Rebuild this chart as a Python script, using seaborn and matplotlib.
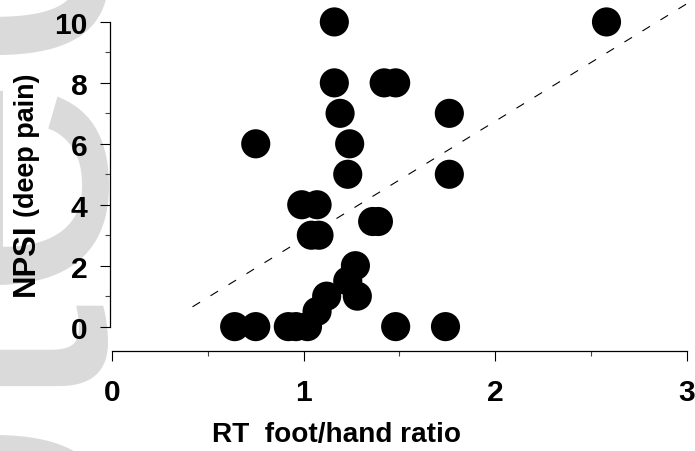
import pandas as pd
import matplotlib
matplotlib.use('Agg')
import matplotlib.pyplot as plt
from matplotlib.ticker import MultipleLocator
import seaborn as sns

# RT foot/hand ratio vs NPSI (deep pain)
rt_ratio = [1.16, 2.58,
            1.16, 1.42, 1.48,
            1.19, 1.76,
            0.75, 1.24,
            1.23, 1.76,
            0.99, 1.07,
            1.36, 1.39,
            1.04, 1.08,
            1.27, 1.23,
            1.12, 1.28,
            1.07,
            0.64, 0.75, 0.92, 0.96, 1.02, 1.48, 1.74]
npsi_deep = [10, 10,
             8, 8, 8,
             7, 7,
             6, 6,
             5, 5,
             4, 4,
             3.45, 3.45,
             3, 3,
             2, 1.5,
             1, 1,
             0.5,
             0, 0, 0, 0, 0, 0, 0]

# dashed trend line as drawn (endpoints)
trend_x = [0.42, 3.0]
trend_y = [0.65, 10.6]

df = pd.DataFrame({'ratio': rt_ratio, 'npsi': npsi_deep})

sns.set_style('ticks')
plt.rcParams['font.family'] = ['Liberation Sans', 'DejaVu Sans']
plt.rcParams['text.color'] = 'black'
plt.rcParams['xtick.color'] = 'black'
plt.rcParams['ytick.color'] = 'black'

fig = plt.figure(figsize=(6.95, 4.52), dpi=100)

# faint watermark behind everything
fig.text(105 / 695, 1 - 1566 / 452, 'Accepted', rotation=90, rotation_mode='anchor',
         ha='left', va='baseline', fontsize=298, color='#dadada', zorder=-10)

ax = fig.add_axes([110 / 695, 1 - 352 / 452, 577 / 695, 350.4 / 452])
ax.patch.set_alpha(0)

sns.scatterplot(data=df, x='ratio', y='npsi', ax=ax, s=440, color='black',
                edgecolor='none', clip_on=False, zorder=3)
ax.plot(trend_x, trend_y, color='black', lw=0.8, dashes=(8, 11), clip_on=False)

ax.set_xlim(-0.0104, 3.0)
ax.set_ylim(-0.8, 10.7)
ax.set_xticks([0, 1, 2, 3])
ax.set_yticks([0, 2, 4, 6, 8, 10])
ax.xaxis.set_minor_locator(MultipleLocator(0.5))
ax.yaxis.set_minor_locator(MultipleLocator(1))

sns.despine(ax=ax)
ax.spines['left'].set_bounds(0, 10)
ax.spines['bottom'].set_bounds(0, 3)
for sp in ('left', 'bottom'):
    ax.spines[sp].set_linewidth(0.9)
    ax.spines[sp].set_color('black')

ax.tick_params(which='major', length=7.2, width=0.8, color='black',
               labelcolor='black', labelsize=21.6)
ax.tick_params(which='minor', length=3.6, width=0.8, color='#444444')
ax.tick_params(axis='x', which='major', pad=12)
ax.tick_params(axis='y', which='major', pad=9)
for lab in ax.get_xticklabels() + ax.get_yticklabels():
    lab.set_fontweight('bold')

ax.set_xlabel('')
ax.set_ylabel('')

fig.text(212 / 695, 1 - 442 / 452, 'RT  foot/hand ratio', ha='left', va='baseline',
         fontsize=20.2, fontweight='bold', color='black')
fig.text(33.5 / 695, 1 - 296 / 452, 'NPSI', rotation=90, rotation_mode='anchor',
         ha='left', va='baseline', fontsize=22.3, fontweight='bold', color='black')
fig.text(33.5 / 695, 1 - 217 / 452, '(deep pain)', rotation=90, rotation_mode='anchor',
         ha='left', va='baseline', fontsize=19.4, fontweight='bold', color='black')

fig.savefig('out.png', dpi=100)
